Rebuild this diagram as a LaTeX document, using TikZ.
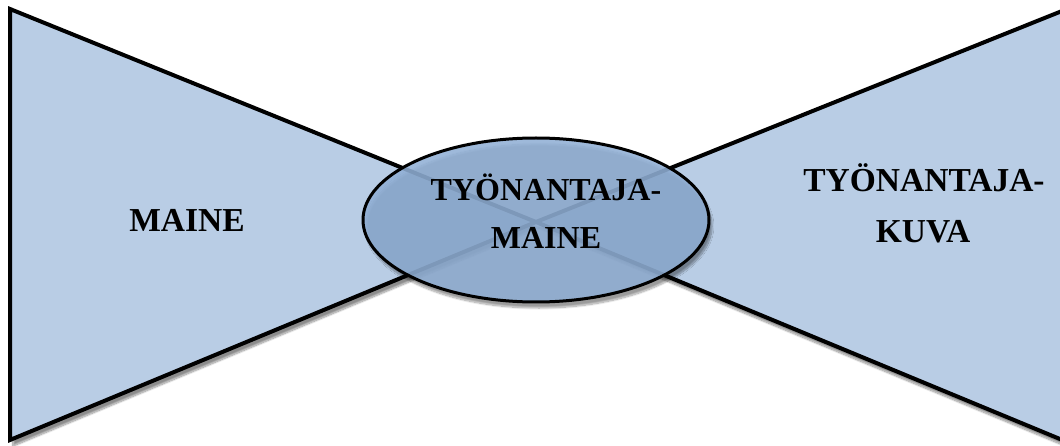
\documentclass[tikz,border=0pt]{standalone}
\usepackage{fontspec}
\setmainfont{Liberation Serif}
\usetikzlibrary{shapes.geometric,shadows.blur}
\definecolor{wingfill}{RGB}{185,205,229}
\definecolor{hubfill}{RGB}{144,175,213}
\tikzset{
  wing/.style={draw=black, line width=4pt, line join=miter, fill=wingfill,
    blur shadow={shadow xshift=3pt, shadow yshift=-6pt, shadow blur steps=12, shadow opacity=45}},
  hub/.style={ellipse, draw=black, line width=3pt, fill=hubfill, fill opacity=0.87,
    minimum width=346pt, minimum height=164pt, inner sep=0pt,
    blur shadow={shadow xshift=3pt, shadow yshift=-6pt, shadow blur steps=12, shadow opacity=45}},
  bigtext/.style={font=\bfseries\fontsize{33.5}{40}\selectfont, anchor=base, inner sep=0pt},
  hubtext/.style={font=\bfseries\fontsize{32}{38}\selectfont, anchor=base, inner sep=0pt},
}
\begin{document}
\begin{tikzpicture}[x=1pt, y=-1pt]
  \useasboundingbox (0,0) rectangle (1060,446);
  \clip (0,0) rectangle (1060,446);
  % two wings of the bow tie meeting at the centre
  \coordinate (apex) at (536,222);
  \coordinate (lt) at (10,9);
  \coordinate (lb) at (10,440);
  \coordinate (rt) at (1072,7);
  \coordinate (rb) at (1072,444);
  \path[wing] (lt) -- (apex) -- (lb) -- cycle;
  \path[wing] (rt) -- (apex) -- (rb) -- cycle;
  % translucent hub over the crossing
  \node[hub] (hub) at (536,220) {};
  % labels
  \node[bigtext] (lmaine) at (187,232) {MAINE};
  \node[bigtext] (rtop) at (924,192) {TYÖNANTAJA-};
  \node[bigtext] (rbot) at (923,243) {KUVA};
  \node[hubtext] (htop) at (546,201) {TYÖNANTAJA-};
  \node[hubtext] (hbot) at (546,249) {MAINE};
\end{tikzpicture}
\end{document}
